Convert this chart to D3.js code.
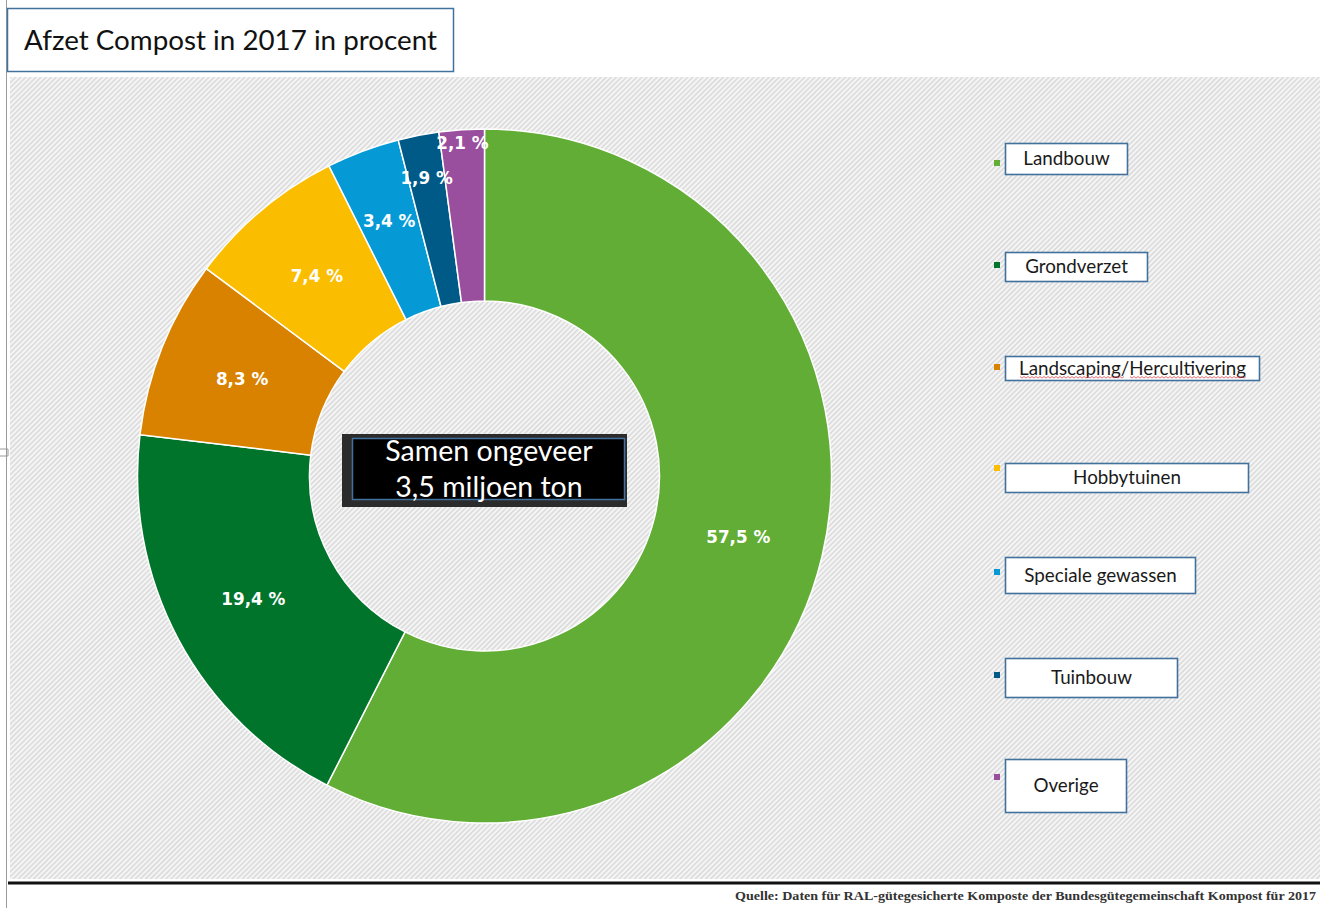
<!DOCTYPE html>
<html>
<head>
<meta charset="utf-8">
<script src="https://cdn.jsdelivr.net/npm/d3@7"></script>
<style>
  html, body { margin: 0; padding: 0; background: #ffffff; }
  svg { display: block; }
</style>
</head>
<body>
<script>
// Afzet compost 2017, aandeel per toepassing (procent)
const categories = ["Landbouw", "Grondverzet", "Landscaping/Hercultivering", "Hobbytuinen",
                    "Speciale gewassen", "Tuinbouw", "Overige"];
const shares = [57.5, 19.4, 8.3, 7.4, 3.4, 1.9, 2.1];
const palette = ["#62ad35", "#00742a", "#d98200", "#fbbd00", "#059ad6", "#005a87", "#9a4f9e"];
const titleText = "Afzet Compost in 2017 in procent";
const centerLines = ["Samen ongeveer", "3,5 miljoen ton"];
const sourceText = "Quelle: Daten für RAL-gütegesicherte Komposte der Bundesgütegemeinschaft Kompost für 2017";

const W = 1332, H = 908;
const svg = d3.select("body").append("svg").attr("width", W).attr("height", H);

// hatched backdrop
const defs = svg.append("defs");
const pat = defs.append("pattern")
  .attr("id", "hatch").attr("patternUnits", "userSpaceOnUse")
  .attr("width", 3.6).attr("height", 3.6)
  .attr("patternTransform", "rotate(45)");
pat.append("rect").attr("width", 3.6).attr("height", 3.6).attr("fill", "#f5f5f5");
pat.append("line").attr("x1", 0.8).attr("y1", 0).attr("x2", 0.8).attr("y2", 3.6)
  .attr("stroke", "#cfcfcf").attr("stroke-width", 1.1);

svg.append("rect").attr("x", 10).attr("y", 77).attr("width", 1310).attr("height", 802)
  .attr("fill", "url(#hatch)");

// page edge on the left
svg.append("line").attr("x1", 6.5).attr("y1", 0).attr("x2", 6.5).attr("y2", H)
  .attr("stroke", "#9a9a9a").attr("stroke-width", 1);
svg.append("path").attr("d", "M0,449 H8 V456 H0").attr("fill", "none")
  .attr("stroke", "#9a9a9a").attr("stroke-width", 1);

// title box
svg.append("rect").attr("x", 7.5).attr("y", 8.5).attr("width", 446).attr("height", 63)
  .attr("fill", "#ffffff").attr("stroke", "#41719c").attr("stroke-width", 1.5);
svg.append("text").attr("x", 24).attr("y", 50)
  .attr("font-family", "Lato, 'Open Sans', sans-serif").attr("font-size", 27)
  .attr("fill", "#111").attr("textLength", 413).attr("lengthAdjust", "spacingAndGlyphs")
  .text(titleText);

// donut
const cx = 484.5, cy = 476, rOuter = 347, rInner = 175;
const g = svg.append("g").attr("transform", `translate(${cx},${cy})`);
const color = d3.scaleOrdinal().domain(categories).range(palette);
const pie = d3.pie().sort(null).value(d => d.v).startAngle(0).endAngle(2 * Math.PI);
const arcs = pie(categories.map((c, i) => ({ c, v: shares[i] })));
const arc = d3.arc().innerRadius(rInner).outerRadius(rOuter);

g.selectAll("path.slice").data(arcs).join("path")
  .attr("class", "slice")
  .attr("d", arc)
  .attr("fill", d => color(d.data.c))
  .attr("stroke", "#ffffff").attr("stroke-width", 1.5);

// value labels; the narrow top slices get their labels pushed outward
const labelPush = [0, 1, 0, 0, 11, 43, 73];
const fmt = v => v.toFixed(1).replace(".", ",") + " %";
g.selectAll("text.val").data(arcs).join("text")
  .attr("class", "val")
  .attr("transform", (d, i) => {
    const a = (d.startAngle + d.endAngle) / 2;
    const r = (rInner + rOuter) / 2 + labelPush[i];
    return `translate(${Math.sin(a) * r},${-Math.cos(a) * r})`;
  })
  .attr("text-anchor", "middle").attr("dy", "0.36em")
  .attr("font-family", "'DejaVu Sans', Verdana, sans-serif")
  .attr("font-weight", "bold").attr("font-size", 16.8)
  .attr("fill", "#ffffff")
  .text(d => fmt(d.data.v));

// centre caption
svg.append("rect").attr("x", 342).attr("y", 434).attr("width", 285).attr("height", 73)
  .attr("fill", "#2b2b2b");
svg.append("rect").attr("x", 352.5).attr("y", 438.5).attr("width", 272).attr("height", 61)
  .attr("fill", "#000000").attr("stroke", "#41719c").attr("stroke-width", 1.5);
svg.selectAll("text.ctr").data(centerLines).join("text")
  .attr("class", "ctr")
  .attr("x", 489).attr("y", (d, i) => 461 + i * 36)
  .attr("text-anchor", "middle")
  .attr("font-family", "Lato, 'Open Sans', sans-serif").attr("font-size", 28.5)
  .attr("fill", "#ffffff")
  .text(d => d);

// legend: coloured marker plus framed label
const legendLayout = [
  { y: 143, w: 122, h: 31 },
  { y: 252, w: 142, h: 29 },
  { y: 356, w: 254, h: 24 },
  { y: 463, w: 243, h: 29 },
  { y: 557, w: 190, h: 36 },
  { y: 658, w: 172, h: 39 },
  { y: 759, w: 121, h: 53 }
];
const markerY = [160, 262, 364, 465, 569, 672, 774];
const lg = svg.append("g");
const items = lg.selectAll("g.item").data(categories).join("g").attr("class", "item");
items.append("rect")
  .attr("x", 994).attr("y", (d, i) => markerY[i]).attr("width", 6).attr("height", 6)
  .attr("fill", d => color(d));
items.append("rect")
  .attr("x", 1005.5).attr("y", (d, i) => legendLayout[i].y + 0.5)
  .attr("width", (d, i) => legendLayout[i].w).attr("height", (d, i) => legendLayout[i].h)
  .attr("fill", "#ffffff").attr("stroke", "#41719c").attr("stroke-width", 1.6);
items.append("text")
  .attr("x", (d, i) => 1005.5 + legendLayout[i].w / 2)
  .attr("y", (d, i) => legendLayout[i].y + legendLayout[i].h / 2 + 6.5)
  .attr("text-anchor", "middle")
  .attr("font-family", "Lato, 'Open Sans', sans-serif").attr("font-size", 18.8)
  .attr("fill", "#1a1a1a")
  .text(d => d);

// spell-check squiggles under the long label
function squiggle(x0, x1, y) {
  let d = `M${x0},${y}`;
  for (let x = x0, k = 0; x < x1; x += 2, k++) d += ` L${x + 2},${y + (k % 2 ? 0 : 1.6)}`;
  return d;
}
lg.append("path").attr("d", squiggle(1020, 1123, 376.5) + " " + squiggle(1130, 1246, 376.5))
  .attr("fill", "none").attr("stroke", "#e0474c").attr("stroke-width", 0.8);

// footer rule and source
svg.append("line").attr("x1", 8).attr("x2", 1320).attr("y1", 883).attr("y2", 883)
  .attr("stroke", "#111").attr("stroke-width", 3);
svg.append("text").attr("x", 1316).attr("y", 900).attr("text-anchor", "end")
  .attr("font-family", "'Liberation Serif', 'DejaVu Serif', serif")
  .attr("font-weight", "bold").attr("font-size", 12).attr("fill", "#333")
  .attr("textLength", 581).attr("lengthAdjust", "spacingAndGlyphs")
  .text(sourceText);
</script>
</body>
</html>
